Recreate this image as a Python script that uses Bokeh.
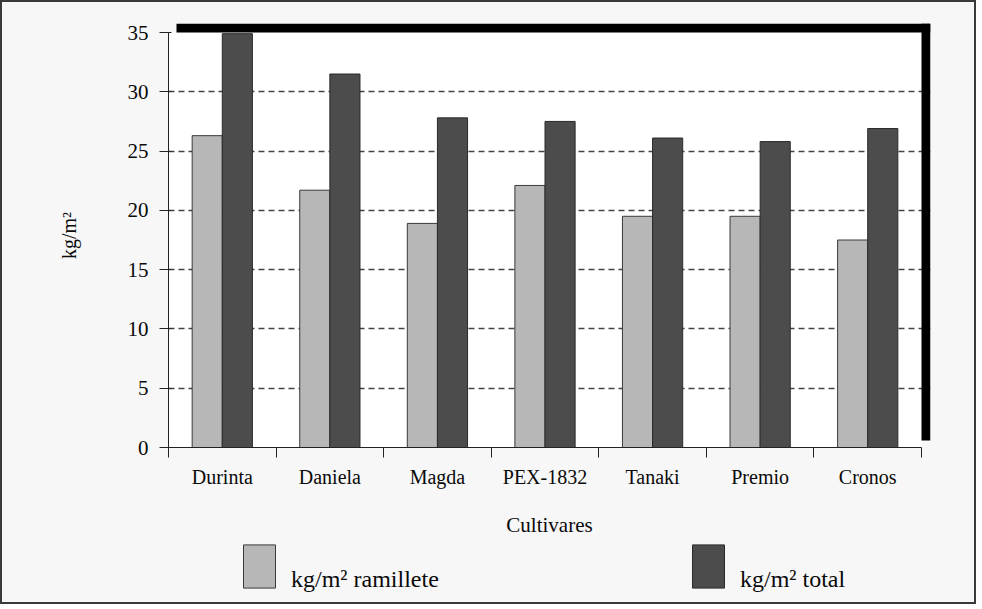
from bokeh.plotting import figure
from bokeh.layouts import column
from bokeh.models import (FixedTicker, BoxAnnotation, Legend, LegendItem,
                          ColumnDataSource, Range1d)
from bokeh.embed import file_html
from bokeh.resources import INLINE

# ---- data ----
categories = ["Durinta", "Daniela", "Magda", "PEX-1832", "Tanaki", "Premio", "Cronos"]
ramillete = [26.3, 21.7, 18.9, 22.1, 19.5, 19.5, 17.5]
total = [34.9, 31.5, 27.8, 27.5, 26.1, 25.8, 26.9]
y_ticks = [0, 5, 10, 15, 20, 25, 30, 35]
series_labels = ["kg/m² ramillete", "kg/m² total"]
x_title = "Cultivares"
y_title = "kg/m²"

# ---- styling / geometry ----
FONT = "Liberation Serif"
BG = "#f7f7f7"
LIGHT = "#b7b7b7"
DARK = "#4c4c4c"
TXT = "#0a0a0a"
W, H1, H2 = 972, 540, 60
b_left, b_right, b_top, b_bottom = 166, 44, 21, 95
frame_w = W - b_left - b_right        # includes 9px shadow strip
frame_h = H1 - b_top - b_bottom
plot_w, plot_h = frame_w - 9, frame_h - 9
n = len(categories)
ymax = y_ticks[-1]
x_end = n * frame_w / plot_w
y_end = ymax * frame_h / plot_h
dx = 8 * n / plot_w
dy_b = 7 * ymax / plot_h

xs = [i + 0.5 for i in range(n)]
off, bw = 0.14, 0.28
src = ColumnDataSource(dict(
    x1=[x - off for x in xs], x2=[x + off for x in xs],
    ram=ramillete, tot=total))

p = figure(width=W, height=H1, output_backend="svg", toolbar_location=None,
           x_range=Range1d(0, x_end), y_range=Range1d(0, y_end),
           min_border_left=b_left, min_border_right=b_right,
           min_border_top=b_top, min_border_bottom=b_bottom)
p.background_fill_color = BG
p.border_fill_color = BG
p.outline_line_color = None

# plot area (white) and drop "shadow" strips
p.add_layout(BoxAnnotation(left=0, right=n, bottom=0, top=ymax,
                           fill_color="white", fill_alpha=1, line_color=None,
                           level="image"))
p.add_layout(BoxAnnotation(left=dx, right=x_end, bottom=ymax, top=y_end,
                           fill_color="black", fill_alpha=1, line_color=None))
p.add_layout(BoxAnnotation(left=n, right=x_end, bottom=dy_b, top=y_end,
                           fill_color="black", fill_alpha=1, line_color=None))

bar_styles = [dict(fill_color=LIGHT, line_color="#3a3a3a", line_width=1),
              dict(fill_color=DARK, line_color="#2a2a2a", line_width=1)]
p.vbar(x="x1", top="ram", width=bw, source=src, **bar_styles[0])
p.vbar(x="x2", top="tot", width=bw, source=src, **bar_styles[1])

# grid
p.xgrid.visible = False
p.ygrid.ticker = FixedTicker(ticks=y_ticks[1:-1])
p.ygrid.grid_line_color = "#444444"
p.ygrid.grid_line_dash = "6 4"
p.ygrid.grid_line_width = 1.3

# x axis: boundary ticks (minor), labels at centres
xa = p.xaxis[0]
xa.ticker = FixedTicker(ticks=xs, minor_ticks=list(range(n + 1)))
xa.major_label_overrides = {x: c for x, c in zip(xs, categories)}
xa.bounds = (0, n)
xa.major_tick_line_color = None
xa.major_tick_out = 10
xa.major_tick_in = 0
xa.minor_tick_out = 10
xa.minor_tick_in = 0
xa.minor_tick_line_color = "#222222"
xa.axis_line_color = "#222222"
xa.major_label_standoff = 8
xa.major_label_text_font = FONT
xa.major_label_text_font_size = "20px"
xa.major_label_text_color = TXT
xa.axis_label = x_title
xa.axis_label_text_font = FONT
xa.axis_label_text_font_size = "21px"
xa.axis_label_text_font_style = "normal"
xa.axis_label_text_color = TXT
xa.axis_label_standoff = 22

ya = p.yaxis[0]
ya.ticker = FixedTicker(ticks=y_ticks)
ya.bounds = (0, ymax)
ya.major_tick_out = 9
ya.major_tick_in = 3
ya.major_tick_line_color = "#222222"
ya.axis_line_color = "#222222"
ya.major_label_standoff = 11
ya.major_label_text_font = FONT
ya.major_label_text_font_size = "21px"
ya.major_label_text_color = TXT
ya.axis_label = y_title
ya.axis_label_text_font = FONT
ya.axis_label_text_font_size = "20px"
ya.axis_label_text_font_style = "normal"
ya.axis_label_text_color = TXT
ya.axis_label_standoff = 45

# ---- legend strip (separate figure so the legend is not clipped) ----
pl = figure(width=W, height=H2, output_backend="svg", toolbar_location=None,
            x_range=Range1d(0, 1), y_range=Range1d(0, 1),
            x_axis_type=None, y_axis_type=None, min_border=0)
pl.background_fill_color = BG
pl.border_fill_color = BG
pl.outline_line_color = None
pl.xgrid.visible = False
pl.ygrid.visible = False
lr = [pl.vbar(x="x1", top="ram", width=bw, source=src, visible=False, **bar_styles[0]),
      pl.vbar(x="x2", top="tot", width=bw, source=src, visible=False, **bar_styles[1])]

legend = Legend(items=[LegendItem(label="\n" + lab, renderers=[r])
                       for lab, r in zip(series_labels, lr)],
                orientation="horizontal", location=(71, 9),
                glyph_width=40, glyph_height=54, label_standoff=12,
                label_width=160, spacing=237, padding=0, margin=0,
                border_line_color=None, background_fill_alpha=0,
                inactive_fill_alpha=0,
                label_text_font=FONT, label_text_font_size="24px",
                label_text_line_height=1.2,
                label_text_color=TXT)
pl.add_layout(legend, "center")

page = column(p, pl, spacing=0)
page.styles = {"border": "2px solid #3a3a3a", "background-color": BG}

open("out.html", "w").write(file_html(page, INLINE))
